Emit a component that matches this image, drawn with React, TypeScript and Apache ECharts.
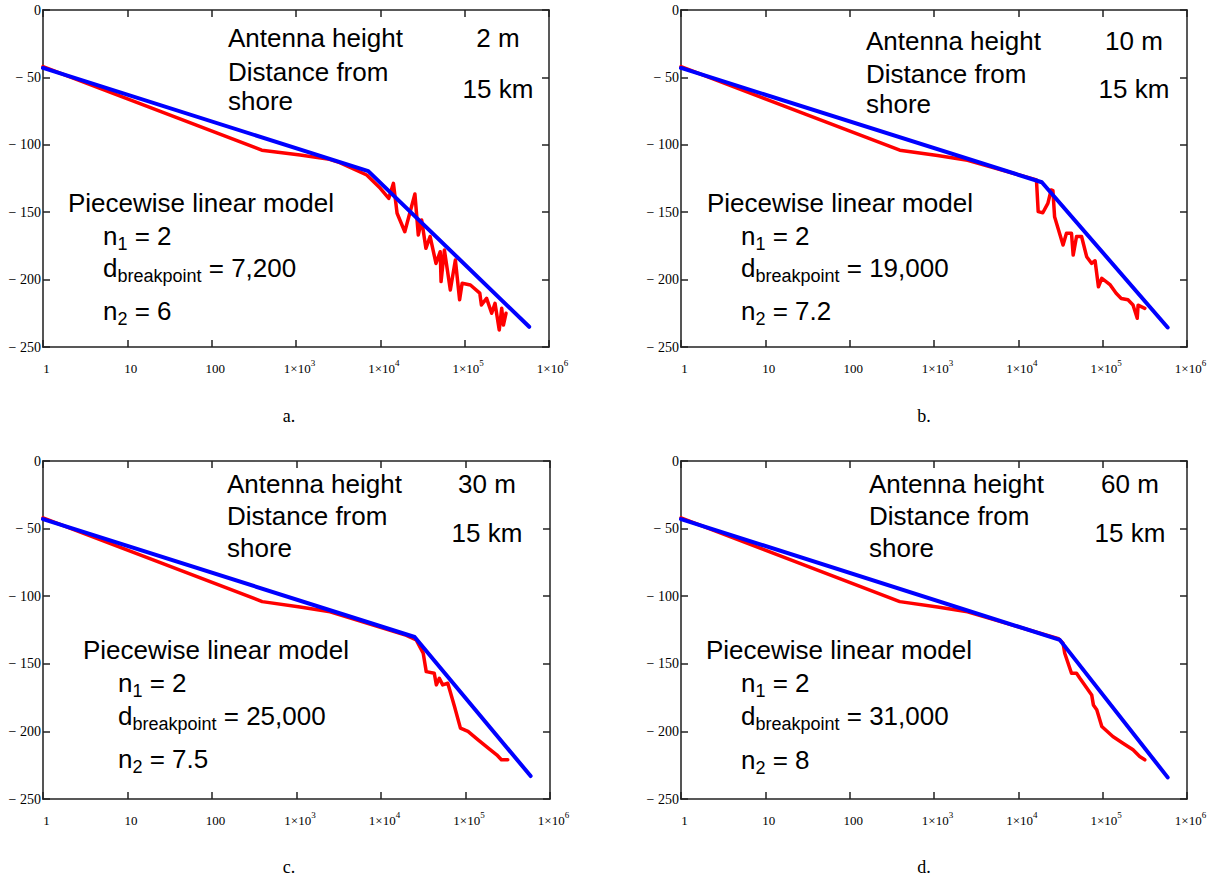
import React, { useEffect, useRef } from "react";
import * as echarts from "echarts";

// ---------- data (distance in m, path loss in dB) ----------
const panelLabels = ["a.", "b.", "c.", "d."];
const antennaHeights = ["2 m", "10 m", "30 m", "60 m"];
const shoreDistance = "15 km";
const n1Values = ["2", "2", "2", "2"];
const breakpoints = ["7,200", "19,000", "25,000", "31,000"];
const n2Values = ["6", "7.2", "7.5", "8"];

const xTickValues = [1, 10, 100, 1000, 10000, 100000, 1000000];
const yTickValues = [0, -50, -100, -150, -200, -250];

// Blue: piecewise linear model
const modelA = [[1, -43], [7200, -119.5], [582000, -235]];
const modelB = [[1, -43], [19000, -127.8], [590000, -235.5]];
const modelC = [[1, -43], [25000, -130.2], [590000, -233]];
const modelD = [[1, -43], [31000, -132.3], [590000, -234]];

// Red: measured / simulated path loss
const measA = [
  [1, -42], [393, -104], [1120, -107.6], [2500, -110.8], [3300, -113.2], [6900, -122.4], [10000, -132.3],
  [12600, -139.7], [14300, -128.6], [15800, -150.8], [19500, -164.5], [25700, -136.5],
  [28200, -166.9], [30900, -155.8], [34700, -176.8], [38900, -168], [45700, -188],
  [51300, -179.3], [52500, -201.5], [57500, -178], [67600, -207.7], [77600, -185.5],
  [87100, -215], [93300, -202.7], [117000, -204], [151000, -210], [158000, -218.8],
  [182000, -213.9], [209000, -225], [229000, -217.6], [257000, -237.4], [275000, -221.3],
  [288000, -233.7], [309000, -225],
];
const measB = [
  [1, -42], [393, -104], [1100, -108], [2500, -111.5], [16400, -126], [17200, -149.6],
  [19500, -150.4], [22400, -143.4], [24500, -133.5], [25700, -134], [26900, -153.3],
  [33900, -174.3], [37200, -165.7], [42700, -165.7], [44700, -181.8], [49000, -168],
  [56200, -168], [64600, -183], [74100, -188], [81300, -186], [89100, -205.3],
  [97700, -199], [123000, -204], [144500, -210.2], [166000, -214], [199500, -215],
  [229000, -218.8], [257000, -228.7], [263000, -219], [316000, -221.3],
];
const measC = [
  [1, -42], [393, -104], [1100, -108], [2500, -111.5], [20000, -129], [26100, -132.4],
  [31600, -142.2], [34300, -155.8], [42700, -157], [45200, -165.6], [49000, -160.7],
  [53700, -165.6], [61700, -164.4], [74100, -181.6], [87100, -197.6], [107000, -200],
  [141000, -206.2], [186000, -212.3], [234000, -217.3], [266000, -221], [316000, -221],
];
const measD = [
  [1, -42], [393, -104], [1100, -108], [2500, -111.5], [30000, -131.5], [33900, -134.8],
  [35500, -142.2], [42700, -157], [49000, -157], [53700, -160.7], [74100, -173],
  [77600, -180.4], [85100, -184], [97700, -196.4], [132000, -203.8], [174000, -208.7],
  [229000, -213.6], [275000, -218.6], [316000, -221],
];

const models = [modelA, modelB, modelC, modelD];
const measured = [measA, measB, measC, measD];

// ---------- layout ----------
const grids = [
  { left: 43, top: 10, width: 506, height: 337 },
  { left: 681, top: 10, width: 506, height: 337 },
  { left: 43, top: 461, width: 507, height: 338 },
  { left: 681, top: 461, width: 506, height: 338 },
];

type TL = {
  ahX: number; ahY: number; dfY: number; shY: number;
  valX: number; hY: number; kmY: number;
  plX: number; plY: number; nX: number; n1Y: number; dY: number; n2Y: number;
  capX: number; capY: number;
};
const textLayout: TL[] = [
  { ahX: 228, ahY: 47, dfY: 81, shY: 110, valX: 498, hY: 47, kmY: 98, plX: 68, plY: 212, nX: 103, n1Y: 245, dY: 277, n2Y: 320, capX: 289, capY: 416 },
  { ahX: 866, ahY: 50, dfY: 83, shY: 113, valX: 1134, hY: 50, kmY: 98, plX: 707, plY: 212, nX: 741, n1Y: 245, dY: 277, n2Y: 320, capX: 924, capY: 416 },
  { ahX: 227, ahY: 493, dfY: 525, shY: 557, valX: 487, hY: 493, kmY: 542, plX: 83, plY: 659, nX: 118, n1Y: 692, dY: 725, n2Y: 768, capX: 289, capY: 867 },
  { ahX: 869, ahY: 493, dfY: 525, shY: 557, valX: 1130, hY: 493, kmY: 542, plX: 706, plY: 659, nX: 741, n1Y: 692, dY: 725, n2Y: 769, capX: 924, capY: 867 },
];

const SANS = '"Liberation Sans", Arial, Helvetica, sans-serif';
const SERIF = '"Liberation Serif", "Times New Roman", Times, serif';
const AXIS_COLOR = "#222";

function txt(x: number, baseline: number, text: string, fs: number, align = "left", family = SANS) {
  return {
    type: "text",
    x,
    y: baseline - 0.35 * fs,
    silent: true,
    style: {
      text,
      font: `${fs}px ${family}`,
      fill: "#000",
      align,
      verticalAlign: "middle",
    },
  };
}

function subscripted(x: number, baseline: number, base: string, sub: string, rest: string) {
  const fs = 26, sfs = 18;
  const baseW = base.length * 0.556 * fs; // 'n' and 'd' both 0.556em in Arial metrics
  const subW = sub === "1" || sub === "2" ? 0.556 * sfs : 4.669 * sfs;
  return [
    txt(x, baseline, base, fs),
    txt(x + baseW, baseline + 5, sub, sfs),
    txt(x + baseW + subW, baseline, rest, fs),
  ];
}

export default function App() {
  const ref = useRef<HTMLDivElement>(null);

  useEffect(() => {
    document.body.style.margin = "0";
    if (!ref.current) return;
    const chart = echarts.init(ref.current, undefined, { renderer: "svg" });

    const xAxes: any[] = [];
    const yAxes: any[] = [];
    const series: any[] = [];
    const graphics: any[] = [];

    grids.forEach((_, i) => {
      const lineStyle = { color: AXIS_COLOR, width: 1.5 };
      const baseX = {
        type: "log",
        logBase: 10,
        min: xTickValues[0],
        max: xTickValues[xTickValues.length - 1],
        splitNumber: 6,
        gridIndex: i,
        axisLine: { show: true, onZero: false, lineStyle },
        axisTick: { show: true, inside: true, length: 7, lineStyle },
        minorTick: { show: false },
        splitLine: { show: false },
      };
      xAxes.push({
        ...baseX,
        position: "bottom",
        axisLabel: {
          show: true,
          showMinLabel: true,
          showMaxLabel: true,
          margin: 11,
          padding: [0, 0, 0, 7],
          formatter: (v: number) => {
            const e = Math.round(Math.log10(v));
            return e < 3 ? `{b|${Math.round(Math.pow(10, e))}}` : `{b|1×10}{s|${e}}`;
          },
          rich: {
            b: { fontFamily: SERIF, fontSize: 13, lineHeight: 21, color: "#000" },
            s: { fontFamily: SERIF, fontSize: 9, lineHeight: 10, verticalAlign: "top", color: "#000" },
          },
        },
      });
      xAxes.push({ ...baseX, position: "top", axisLabel: { show: false } });

      const baseY = {
        type: "value",
        min: yTickValues[yTickValues.length - 1],
        max: yTickValues[0],
        interval: 50,
        gridIndex: i,
        axisLine: { show: true, onZero: false, lineStyle },
        axisTick: { show: true, inside: true, length: 7, lineStyle },
        splitLine: { show: false },
      };
      yAxes.push({
        ...baseY,
        position: "left",
        axisLine: { show: true, onZero: false, lineStyle: { color: "#555", width: 2 } },
        axisLabel: {
          show: true,
          margin: 2,
          padding: [6, 0, 0, 0],
          fontFamily: SERIF,
          fontSize: 14,
          color: "#000",
          formatter: (v: number) => (v === 0 ? "0" : "\u2212 " + Math.abs(v)),
        },
      });
      yAxes.push({ ...baseY, position: "right", axisLabel: { show: false } });

      series.push({
        type: "line",
        xAxisIndex: i * 2,
        yAxisIndex: i * 2,
        data: measured[i],
        showSymbol: false,
        symbol: "none",
        lineStyle: { color: "#ff0000", width: 3.5, join: "round", cap: "round" },
        z: 2,
      });
      series.push({
        type: "line",
        xAxisIndex: i * 2,
        yAxisIndex: i * 2,
        data: models[i],
        showSymbol: false,
        symbol: "none",
        lineStyle: { color: "#0000ff", width: 4, join: "round", cap: "round" },
        z: 3,
      });

      const t = textLayout[i];
      graphics.push(txt(t.ahX, t.ahY, "Antenna height", 26));
      graphics.push(txt(t.ahX, t.dfY, "Distance from", 26));
      graphics.push(txt(t.ahX, t.shY, "shore", 26));
      graphics.push(txt(t.valX, t.hY, antennaHeights[i], 26, "center"));
      graphics.push(txt(t.valX, t.kmY, shoreDistance, 26, "center"));
      graphics.push(txt(t.plX, t.plY, "Piecewise linear model", 26));
      graphics.push(...subscripted(t.nX, t.n1Y, "n", "1", " = " + n1Values[i]));
      graphics.push(...subscripted(t.nX, t.dY, "d", "breakpoint", " = " + breakpoints[i]));
      graphics.push(...subscripted(t.nX, t.n2Y, "n", "2", " = " + n2Values[i]));
      graphics.push(txt(t.capX, t.capY + 6, panelLabels[i], 18, "center", SERIF));
    });

    chart.setOption({
      animation: false,
      backgroundColor: "#fff",
      grid: grids.map((g) => ({ ...g, containLabel: false })),
      xAxis: xAxes,
      yAxis: yAxes,
      series,
      graphic: graphics,
    });

    return () => chart.dispose();
  }, []);

  return <div ref={ref} style={{ width: 1216, height: 879 }} />;
}
